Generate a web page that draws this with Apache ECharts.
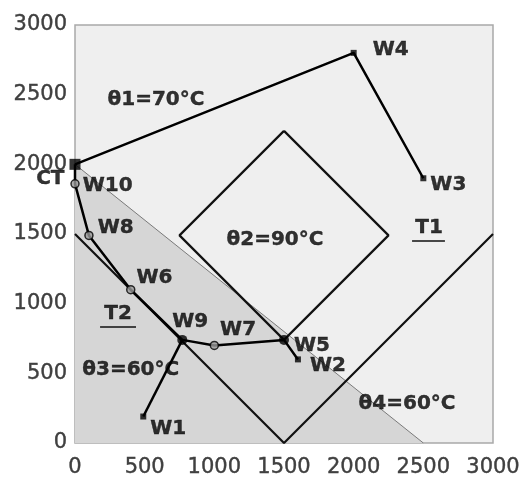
<!DOCTYPE html>
<html>
<head>
<meta charset="utf-8">
<script src="https://cdn.jsdelivr.net/npm/echarts@6/dist/echarts.min.js"></script>
<style>
  html, body { margin: 0; padding: 0; background: #fff; }
  #chart { width: 529px; height: 479px; }
</style>
</head>
<body>
<div id="chart"></div>
<script>
// Wells on the site plan (x, y in metres)
const wellNames = ['CT', 'W10', 'W8', 'W6', 'W9', 'W7', 'W5', 'W2', 'W1', 'W4', 'W3'];
const wellX     = [0,    0,     100,  400,  770,  1000, 1500, 1600, 490,  2000, 2500];
const wellY     = [2000, 1860,  1490, 1100, 740,  700,  740,  600,  190,  2800, 1900];

// Pipe routes, as sequences of well names
const routeUpper  = ['CT', 'W4', 'W3'];
const routeMain   = ['CT', 'W10', 'W8', 'W6', 'W9', 'W7', 'W5', 'W2'];
const routeBranch = ['W9', 'W1'];

// Isotherm outlines
const theta2X = [1500, 2250, 1500, 750, 1500];
const theta2Y = [2240, 1490, 740, 1490, 2240];
const theta4X = [0, 1500, 3000];
const theta4Y = [1500, 0, 1500];

// Boundary of the T2 zone
const zoneX = [0, 2500];
const zoneY = [2000, 0];

// Zone and temperature annotations
const noteText = ['θ1=70°C', 'θ2=90°C', 'θ3=60°C', 'θ4=60°C', 'T1', 'T2'];
const noteX    = [581, 1435, 400, 2383, 2541, 309];
const noteY    = [2462, 1457, 524, 280, 1543, 926];

// Underlines under zone names
const underlineT1X = [2419, 2655];
const underlineT1Y = [1450, 1450];
const underlineT2X = [180, 438];
const underlineT2Y = [833, 833];

// Axis ticks
const axisMin = 0, axisMax = 3000, axisStep = 500;

const FONT = 'DejaVu Sans';

const pts = (xs, ys) => xs.map((x, i) => [x, ys[i]]);
const wellPoint = name => {
  const i = wellNames.indexOf(name);
  return [wellX[i], wellY[i]];
};
const route = names => names.map(wellPoint);

// Marker and label look for each well
const openDot  = { symbol: 'circle', symbolSize: 8, itemStyle: { color: '#9a9a9a', borderColor: '#000', borderWidth: 1.5 } };
const solidDot = { symbol: 'circle', symbolSize: 10, itemStyle: { color: '#000' } };
const smallSq  = { symbol: 'rect', symbolSize: 6, itemStyle: { color: '#000' } };
const wellStyle = {
  CT:  { symbol: 'rect', symbolSize: 11, itemStyle: { color: '#000' }, pos: 'left', off: [0, 14] },
  W10: Object.assign({ pos: 'right', off: [-2, 2] }, openDot),
  W8:  Object.assign({ pos: 'right', off: [-1, -8] }, openDot),
  W6:  Object.assign({ pos: 'right', off: [-4, -12] }, openDot),
  W9:  Object.assign({ pos: 'top', off: [8, 2] }, solidDot),
  W7:  Object.assign({ pos: 'right', off: [-4, -16] }, openDot),
  W5:  Object.assign({ pos: 'right', off: [0, 6] }, solidDot),
  W2:  Object.assign({ pos: 'right', off: [4, 6] }, smallSq),
  W1:  Object.assign({ pos: 'right', off: [-1, 12] }, smallSq),
  W4:  Object.assign({ pos: 'right', off: [11, -3] }, smallSq),
  W3:  Object.assign({ pos: 'right', off: [-1, 7] }, smallSq)
};

const labelText = {
  fontFamily: FONT, fontWeight: 'bold', fontSize: 20, color: '#000',
  textBorderColor: '#000', textBorderWidth: 0.4
};

const wellData = wellNames.map((name, i) => {
  const s = wellStyle[name];
  return {
    name: name,
    value: [wellX[i], wellY[i]],
    symbol: s.symbol,
    symbolSize: s.symbolSize,
    itemStyle: s.itemStyle,
    label: Object.assign({ show: true, position: s.pos, offset: s.off, formatter: '{b}' }, labelText)
  };
});

const noteData = noteText.map((t, i) => ({ name: t, value: [noteX[i], noteY[i]] }));

const plainLine = (data, color, width, z) => ({
  type: 'line', data: data, symbol: 'none', silent: true, z: z,
  lineStyle: { color: color, width: width }, animation: false
});

const axisCommon = {
  type: 'value', min: axisMin, max: axisMax, interval: axisStep,
  axisLine: { show: false }, axisTick: { show: false }, splitLine: { show: false }
};

const tickFormat = v => String(v);
const tickText = {
  fontFamily: FONT, fontSize: 21, color: '#404040',
  textBorderColor: '#404040', textBorderWidth: 0.4, formatter: tickFormat
};

const chart = echarts.init(document.getElementById('chart'), null, { renderer: 'canvas' });
chart.setOption({
  animation: false,
  grid: {
    left: 75, right: 36, top: 25, bottom: 36,
    show: true, backgroundColor: '#efefef', borderColor: '#a9a9a9', borderWidth: 1.5
  },
  xAxis: Object.assign({}, axisCommon, {
    axisLabel: Object.assign({ margin: 14 }, tickText)
  }),
  yAxis: Object.assign({}, axisCommon, {
    axisLabel: Object.assign({ margin: 8, padding: [0, 0, 7, 0] }, tickText)
  }),
  series: [
    // shaded T2 zone below its boundary
    Object.assign(plainLine(pts(zoneX, zoneY), '#7a7a7a', 1, 1), {
      areaStyle: { color: '#d6d6d6', opacity: 1, origin: 'start' }
    }),
    plainLine(pts(theta4X, theta4Y), '#111', 2.2, 2),
    plainLine(pts(theta2X, theta2Y), '#111', 2.2, 2),
    plainLine(route(routeUpper), '#000', 2.5, 3),
    plainLine(route(routeMain), '#000', 2.5, 3),
    plainLine(route(routeBranch), '#000', 2.5, 3),
    plainLine(pts(underlineT1X, underlineT1Y), '#111', 1.5, 3),
    plainLine(pts(underlineT2X, underlineT2Y), '#111', 1.5, 3),
    {
      type: 'scatter', data: wellData, z: 5, silent: true, clip: false
    },
    {
      type: 'scatter', data: noteData, symbolSize: 0, z: 5, silent: true,
      label: Object.assign({ show: true, position: 'inside', formatter: '{b}' }, labelText)
    }
  ]
});
</script>
</body>
</html>
